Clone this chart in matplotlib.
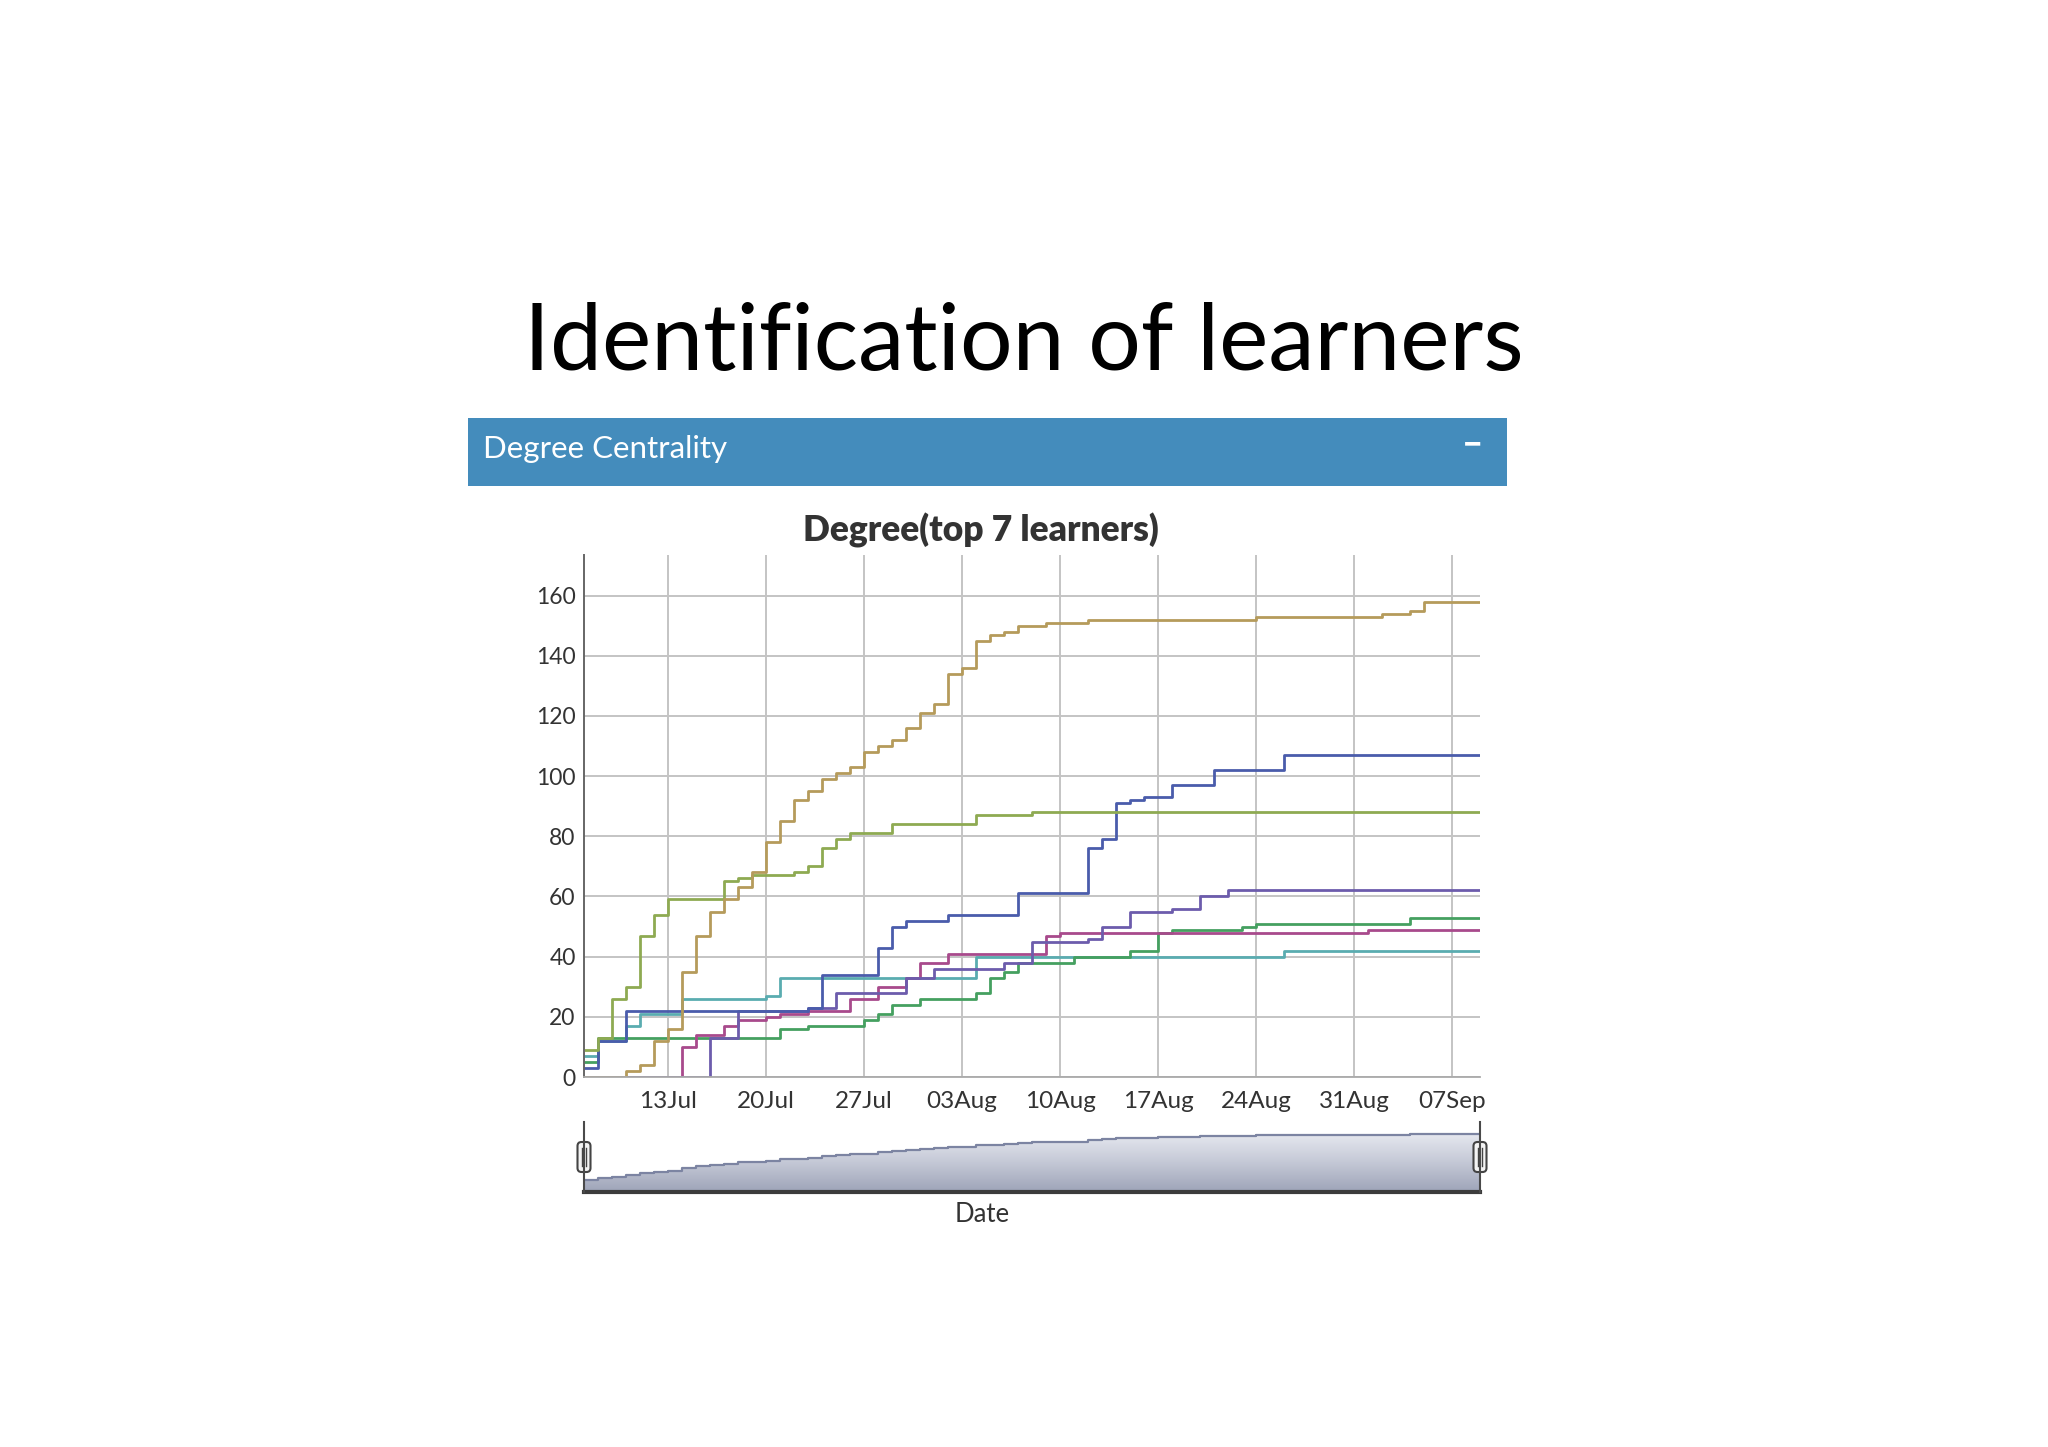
import numpy as np
import matplotlib.pyplot as plt
from matplotlib.patches import Rectangle, FancyBboxPatch
from matplotlib.lines import Line2D
from matplotlib.transforms import IdentityTransform
from matplotlib.colors import LinearSegmentedColormap

plt.rcParams['font.family'] = ['Lato', 'DejaVu Sans']

# day offsets from 13 Jul where a learner's degree changes, and the new degree
start = np.datetime64('2015-07-13')
first_day, last_day = -6, 58

gold_days = [-6, -3, -2, -1, 0, 1, 2, 3, 4, 5, 6, 7, 8, 9, 10, 11, 12, 13, 14, 15, 16, 17, 18, 19, 20,
             21, 22, 23, 24, 25, 27, 30, 42, 51, 53, 54, 58]
gold_vals = [0, 2, 4, 12, 16, 35, 47, 55, 59, 63, 68, 78, 85, 92, 95, 99, 101, 103, 108, 110, 112, 116, 121, 124, 134,
             136, 145, 147, 148, 150, 151, 152, 153, 154, 155, 158, 158]

olive_days = [-6, -5, -4, -3, -2, -1, 0, 4, 5, 6, 9, 10, 11, 12, 13, 16, 22, 26, 58]
olive_vals = [9, 13, 26, 30, 47, 54, 59, 65, 66, 67, 68, 70, 76, 79, 81, 84, 87, 88, 88]

blue_days = [-6, -5, -3, 10, 11, 15, 16, 17, 20, 25, 30, 31, 32, 33, 34, 36, 39, 44, 58]
blue_vals = [3, 12, 22, 23, 34, 43, 50, 52, 54, 61, 76, 79, 91, 92, 93, 97, 102, 107, 107]

teal_days = [-6, -5, -3, -2, 1, 7, 8, 22, 44, 58]
teal_vals = [7, 12, 17, 21, 26, 27, 33, 40, 42, 42]

green_days = [-6, -5, 8, 10, 14, 15, 16, 18, 22, 23, 24, 25, 29, 33, 35, 36, 41, 42, 53, 58]
green_vals = [5, 13, 16, 17, 19, 21, 24, 26, 28, 33, 35, 38, 40, 42, 48, 49, 50, 51, 53, 53]

magenta_days = [-6, 1, 2, 4, 5, 7, 8, 10, 13, 15, 17, 18, 20, 27, 28, 50, 58]
magenta_vals = [0, 10, 14, 17, 19, 20, 21, 22, 26, 30, 33, 38, 41, 47, 48, 49, 49]

purple_days = [-6, 3, 5, 10, 12, 17, 19, 24, 26, 30, 31, 33, 36, 38, 40, 58]
purple_vals = [0, 13, 22, 23, 28, 33, 36, 38, 45, 46, 50, 55, 56, 60, 62, 62]

series = [
    (teal_days, teal_vals, '#5aacb0'),
    (green_days, green_vals, '#45a060'),
    (magenta_days, magenta_vals, '#a84a8c'),
    (purple_days, purple_vals, '#6c5cac'),
    (blue_days, blue_vals, '#4a5cab'),
    (olive_days, olive_vals, '#8eaa52'),
    (gold_days, gold_vals, '#b59b5b'),
]

tick_days = [0, 7, 14, 21, 28, 35, 42, 49, 56]
tick_labels = ['13Jul', '20Jul', '27Jul', '03Aug', '10Aug', '17Aug', '24Aug', '31Aug', '07Sep']
y_ticks = [0, 20, 40, 60, 80, 100, 120, 140, 160]

W, H = 2048, 1447
fig = plt.figure(figsize=(W / 100, H / 100), dpi=100)
fig.patch.set_facecolor('white')

def fx(px):
    return px / W

def fy(py):
    return 1 - py / H

# slide title
fig.text(0.5, fy(344), 'Identification of learners', ha='center', va='center',
         fontsize=67, color='black')

# box header
fig.add_artist(Rectangle((fx(468), fy(486)), fx(1507) - fx(468), 68 / H,
                         transform=fig.transFigure, color='#448cbc', lw=0))
fig.text(fx(483), fy(449), 'Degree Centrality', ha='left', va='center', fontsize=22.5, color='white')
fig.text(fx(1473), fy(444), '\u2212', ha='center', va='center', fontsize=24,
         fontweight='heavy', color='white')

fig.text(fx(981), fy(530), 'Degree(top 7 learners)', ha='center', va='center',
         fontsize=25.5, fontweight='heavy', color='#333333')

# main plot
ax = fig.add_axes([fx(584), fy(1077), fx(1480) - fx(584), (1077 - 555) / H])
for days, vals, c in series:
    d = start + np.array(days).astype('timedelta64[D]')
    ax.plot(d, vals, drawstyle='steps-post', color=c, lw=2.0)

ax.set_xlim(start + np.timedelta64(first_day, 'D'), start + np.timedelta64(last_day, 'D'))
ax.set_ylim(0, 173.5)
ax.set_xticks(start + np.array(tick_days).astype('timedelta64[D]'))
ax.set_xticklabels(tick_labels)
ax.set_yticks(y_ticks)
ax.grid(True, color='#c4c4c4', lw=1.4)
ax.set_axisbelow(True)
ax.tick_params(length=0, colors='#333333')
ax.tick_params(axis='x', pad=10, labelsize=17.5)
ax.tick_params(axis='y', pad=6, labelsize=16.5)
for s in ['top', 'right']:
    ax.spines[s].set_visible(False)
ax.spines['left'].set_color('#666666')
ax.spines['left'].set_linewidth(1.4)
ax.spines['bottom'].set_color('#aaaaaa')
ax.spines['bottom'].set_linewidth(1.3)

# navigator: total degree of the seven learners
grid_days = np.arange(first_day, last_day + 1)
total = np.zeros(len(grid_days))
for days, vals, c in series:
    idx = np.searchsorted(days, grid_days, side='right') - 1
    total += np.array(vals)[idx]

nav = fig.add_axes([fx(584), fy(1192), fx(1480) - fx(584), (1192 - 1123) / H])
nav.set_xlim(first_day, last_day)
nav.set_ylim(-118, 690)
poly = nav.fill_between(grid_days, total, -118, step='post', color='none', lw=0)
cmap = LinearSegmentedColormap.from_list('nav', ['#9ea4b8', '#c4c8d6', '#e6e8ef'])
grad = np.linspace(0, 1, 100).reshape(-1, 1)
im = nav.imshow(grad, extent=[first_day, last_day, -118, 570], origin='lower',
                aspect='auto', cmap=cmap)
im.set_clip_path(poly.get_paths()[0], transform=nav.transData)
nav.step(grid_days, total, where='post', color='#7c84a2', lw=1.6)
nav.set_xticks([])
nav.set_yticks([])
for s in ['top', 'right', 'left']:
    nav.spines[s].set_visible(False)
nav.spines['bottom'].set_color('#3c3c3c')
nav.spines['bottom'].set_linewidth(3)

# navigator edges and handles
for xp in [584, 1480]:
    fig.add_artist(Line2D([xp, xp], [H - 1192, H - 1122], transform=IdentityTransform(),
                          color='#4a4a4a', lw=1.5))
    fig.add_artist(FancyBboxPatch((xp - 6.5, H - 1172), 13, 30,
                                  boxstyle='round,pad=0,rounding_size=4',
                                  transform=IdentityTransform(),
                                  facecolor='#f4f4f4', edgecolor='#444444', lw=1.5))
    for dx in [-2, 2]:
        fig.add_artist(Line2D([xp + dx, xp + dx], [H - 1166, H - 1148],
                              transform=IdentityTransform(), color='#444444', lw=1))

fig.text(fx(982), fy(1215), 'Date', ha='center', va='center', fontsize=18.5, color='#333333')

fig.savefig('out.png', dpi=100)
